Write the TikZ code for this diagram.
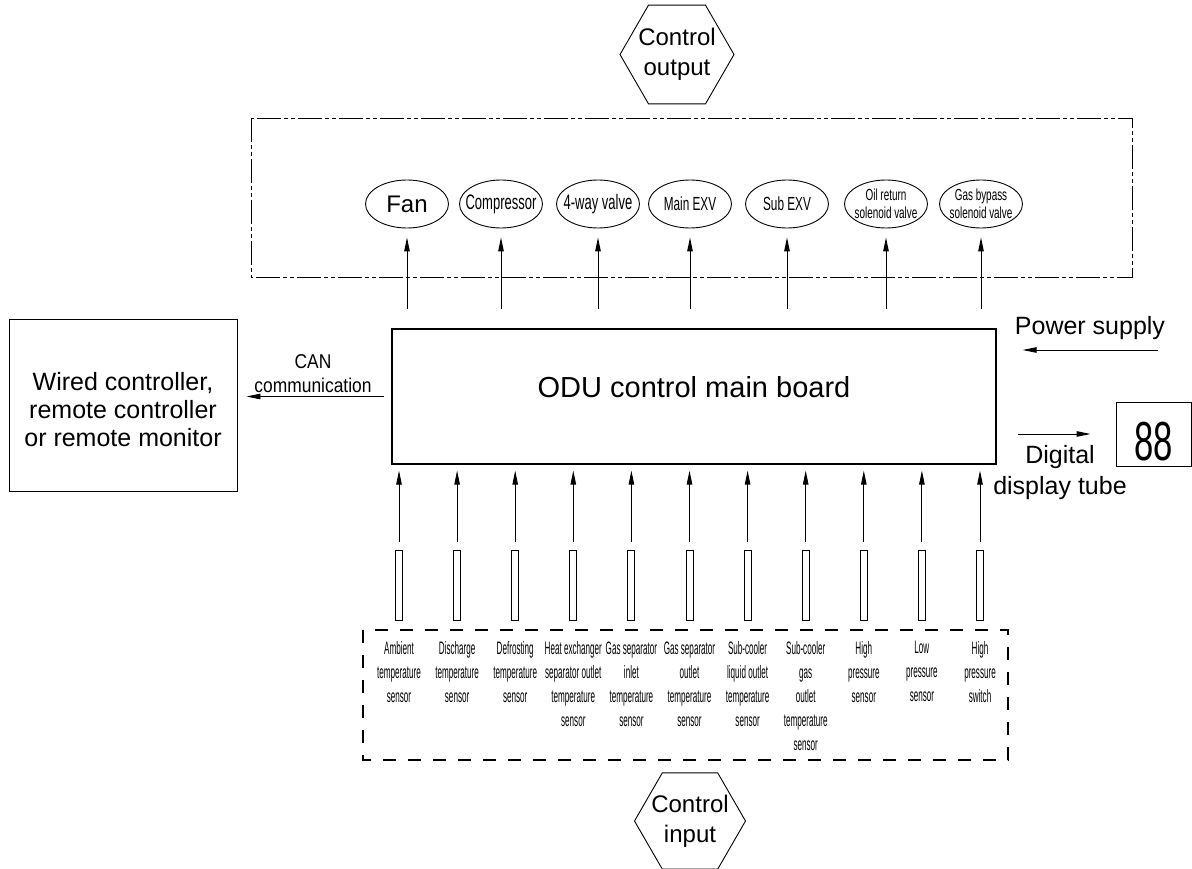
\documentclass[tikz,border=0pt]{standalone}
\usepackage{fontspec}
\setmainfont{Liberation Sans}
\newfontfamily\narrowfont[FakeStretch=0.62]{Liberation Sans}
\newfontfamily\sensorfont[FakeStretch=0.45]{Liberation Sans}
\newfontfamily\canfont[FakeStretch=0.87]{Liberation Sans}
\newfontfamily\digitfont[FakeStretch=0.63]{Liberation Sans}
\usetikzlibrary{shapes.geometric,arrows.meta}

\begin{document}
\begin{tikzpicture}[x=1pt,y=-1pt,line width=0.9pt,
        arr/.style={-{Triangle[length=14pt,width=5.5pt]}},
        valve/.style={draw,ellipse,minimum width=83pt,minimum height=48pt,inner sep=0pt},
        hexa/.style={draw,regular polygon,regular polygon sides=6,inner sep=0pt},
        probe/.style={draw,minimum width=7pt,minimum height=70pt,inner sep=0pt}]
        \useasboundingbox (0,0) rectangle (1192,869);
        \pgfmathsetmacro{\probeStep}{58.1}

        % main board
        \node[draw, line width=1.3pt, minimum width=604pt, minimum height=135pt,
              font=\fontsize{29}{34}\selectfont, text height=21pt, text depth=19pt]
            (board) at (694,396.5) {ODU control main board};

        % left: controllers
        \node[draw, minimum width=228pt, minimum height=172pt,
              label={[yshift=-5pt, align=center, font=\fontsize{25}{28}\selectfont]center:{Wired controller,\\remote controller\\or remote monitor}}]
            (ctrl) at (123,405) {};
        \node[font=\canfont\fontsize{20}{24}\selectfont, align=center]
            (can) at (313,374) {CAN\\communication};
        \draw[arr, shorten <=7pt, shorten >=9pt] (board.west) -- (board.west -| ctrl.east);

        % right: power and display
        \node[font=\fontsize{25}{30}\selectfont] (pwr) at (1090,328) {Power supply};
        \coordinate (pwrin) at (1158,350);
        \draw[arr, shorten >=26pt] (pwrin) -- (pwrin -| board.east);
        \node[draw, minimum width=75pt, minimum height=64pt, inner sep=0pt,
              font=\digitfont\fontsize{55}{60}\selectfont, text height=52pt, text depth=0pt]
            (dsp) at (1153.5,434) {88};
        \draw[arr, shorten <=21pt, shorten >=25pt] (board.east |- dsp.west) -- (dsp.west);
        \node[font=\fontsize{25}{31}\selectfont, align=center] (dig) at (1060,473) {Digital\\display tube};

        % control output
        \node[hexa, minimum size=114pt,
              label={[font=\fontsize{24}{30}\selectfont, align=center]center:{Control\\output}}]
            (out) at (677,54.5) {};
        \draw[dash pattern=on 24pt off 3pt on 4pt off 3pt on 4pt off 3pt] (251,118) rectangle (1132,277);
        \foreach \x/\n/\fnt/\txt in {
                407/fan/{\fontsize{24}{26}\selectfont}/{Fan},
                501/comp/{\narrowfont\fontsize{21}{22}\selectfont}/{Compressor},
                598/fwv/{\narrowfont\fontsize{21}{22}\selectfont}/{4-way valve},
                690/mexv/{\narrowfont\fontsize{19}{22}\selectfont}/{Main EXV},
                787/sexv/{\narrowfont\fontsize{19}{22}\selectfont}/{Sub EXV},
                886/oil/{\narrowfont\fontsize{16}{18}\selectfont}/{Oil return\\solenoid valve},
                981/gas/{\narrowfont\fontsize{16}{18}\selectfont}/{Gas bypass\\solenoid valve}}{
            \node[valve, label={[font=\fnt, align=center]center:\txt}] (\n) at (\x,204) {};
            \draw[arr, shorten <=19pt, shorten >=9pt] (\n.south |- board.north) -- (\n.south);
        }

        % control input
        \draw[line width=2pt, dash pattern=on 13pt off 12pt] (363,630) rectangle (1008,760);
        \foreach \txt [count=\i from 0] in {
                {Ambient\\temperature\\sensor},
                {Discharge\\temperature\\sensor},
                {Defrosting\\temperature\\sensor},
                {Heat exchanger\\separator outlet\\temperature\\sensor},
                {Gas separator\\inlet\\temperature\\sensor},
                {Gas separator\\outlet\\temperature\\sensor},
                {Sub-cooler\\liquid outlet\\temperature\\sensor},
                {Sub-cooler\\gas\\outlet\\temperature\\sensor},
                {High\\pressure\\sensor},
                {Low\\pressure\\sensor},
                {High\\pressure\\switch}}{
            \pgfmathsetmacro{\x}{399+\probeStep*\i}
            \node[probe] (s\i) at (\x,585) {};
            \node[font=\sensorfont\fontsize{18}{24}\selectfont, align=center, anchor=north, inner sep=0pt]
                (t\i) at (\x,641) {\txt};
            \draw[arr, shorten <=8pt, shorten >=6pt] (s\i.north) -- (s\i.north |- board.south);
        }
        \node[hexa, minimum size=111pt,
              label={[font=\fontsize{24}{30}\selectfont, align=center]center:{Control\\input}}]
            (in) at (690,821) {};
    \end{tikzpicture}
\end{document}
